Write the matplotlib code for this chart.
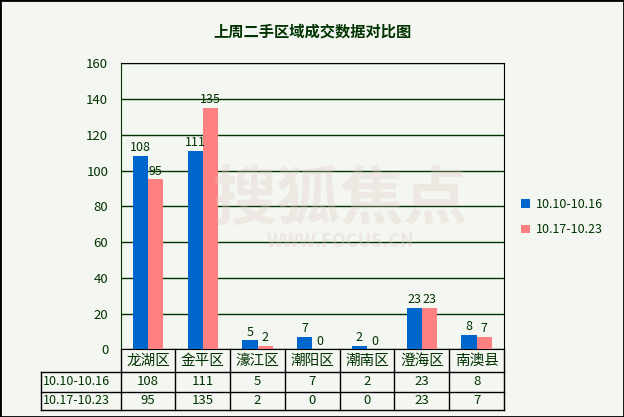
import matplotlib.pyplot as plt
import numpy as np

plt.rcParams['font.family'] = ['Noto Sans CJK SC', 'DejaVu Sans']

# Data
districts = ['龙湖区', '金平区', '濠江区', '潮阳区', '潮南区', '澄海区', '南澳县']
week1_label = '10.10-10.16'
week2_label = '10.17-10.23'
week1 = [108, 111, 5, 7, 2, 23, 8]
week2 = [95, 135, 2, 0, 0, 23, 7]

bg = '#F4F6F2'
green = '#003300'
blue = '#0066CC'
pink = '#FF8080'

fig = plt.figure(figsize=(6.24, 4.17), dpi=100, facecolor=bg)
ax = fig.add_axes([120.7 / 624, 1 - 349.3 / 417, 383.3 / 624, 286 / 417])
ax.set_facecolor('none')

x = np.arange(len(districts))
w = 0.28
b1 = ax.bar(x - w / 2, week1, w, color=blue, label=week1_label, zorder=3)
b2 = ax.bar(x + w / 2, week2, w, color=pink, label=week2_label, zorder=3)
for bars, vals in ((b1, week1), (b2, week2)):
    for r, v in zip(bars, vals):
        ax.text(r.get_x() + r.get_width() / 2, v + 1, str(v), ha='center', va='bottom',
                fontsize=9, color=green, zorder=4)

ax.set_xlim(-0.5, len(districts) - 0.5)
ax.set_ylim(0, 160)
ax.set_yticks(np.arange(0, 161, 20))
ax.tick_params(axis='y', length=0, labelsize=9.5, labelcolor=green, pad=9)
ax.set_xticks([])
ax.grid(axis='y', color=green, linewidth=1, zorder=1)
ax.spines['top'].set_color('black')
ax.spines['right'].set_color('black')
ax.spines['left'].set_color(green)
ax.spines['bottom'].set_color('black')

# Table under the plot
tr = ax.get_xaxis_transform()
axh = 286.0
rows_px = [0, 22.4, 42.4, 61.0]
ys = [-p / axh for p in rows_px]
left = -0.5 - (120.7 - 41) / (383.3 / 7)
n = len(districts)
kw = dict(transform=tr, color='black', linewidth=1, clip_on=False)
ax.plot([left, n - 0.5], [ys[1], ys[1]], **kw)
ax.plot([left, n - 0.5], [ys[2], ys[2]], **kw)
ax.plot([left, n - 0.5], [ys[3], ys[3]], **kw)
ax.plot([left, left], [ys[1], ys[3]], **kw)
for i in range(n + 1):
    ax.plot([i - 0.5, i - 0.5], [ys[0], ys[3]], **kw)

for i, d in enumerate(districts):
    ax.text(i, (ys[0] + ys[1]) / 2, d, transform=tr, ha='center', va='center',
            fontsize=10.5, color=green)
    ax.text(i, (ys[1] + ys[2]) / 2, str(week1[i]), transform=tr, ha='center',
            va='center', fontsize=9.5, color=green)
    ax.text(i, (ys[2] + ys[3]) / 2, str(week2[i]), transform=tr, ha='center',
            va='center', fontsize=9.5, color=green)
for lab, k in ((week1_label, 1), (week2_label, 2)):
    ax.text(left + 0.03, (ys[k] + ys[k + 1]) / 2, lab, transform=tr, ha='left',
            va='center', fontsize=9, color=green)

# Watermark
fig.text(0.545, 0.52, '搜狐焦点', ha='center', va='center', fontsize=46,
         fontweight='bold', color='#E2C8C2', alpha=0.3, zorder=0)
fig.text(0.545, 0.42, 'WWW.FOCUS.CN', ha='center', va='center', fontsize=13,
         fontweight='bold', color='#E2C8C2', alpha=0.35, zorder=0)

fig.text(0.5, 1 - 32 / 417, '上周二手区域成交数据对比图', ha='center', va='center',
         fontsize=11, fontweight='bold', color=green)

leg = fig.legend(loc='center left', bbox_to_anchor=(510 / 624, 1 - 217 / 417),
                 frameon=False, fontsize=9, handlelength=0.7, handleheight=0.7,
                 handletextpad=0.5, labelspacing=1.0, labelcolor=green)

fig.add_artist(plt.Rectangle((0, 0), 1, 1, transform=fig.transFigure, fill=False,
                             edgecolor='black', linewidth=2))

fig.savefig('out.png', dpi=100, facecolor=bg)
